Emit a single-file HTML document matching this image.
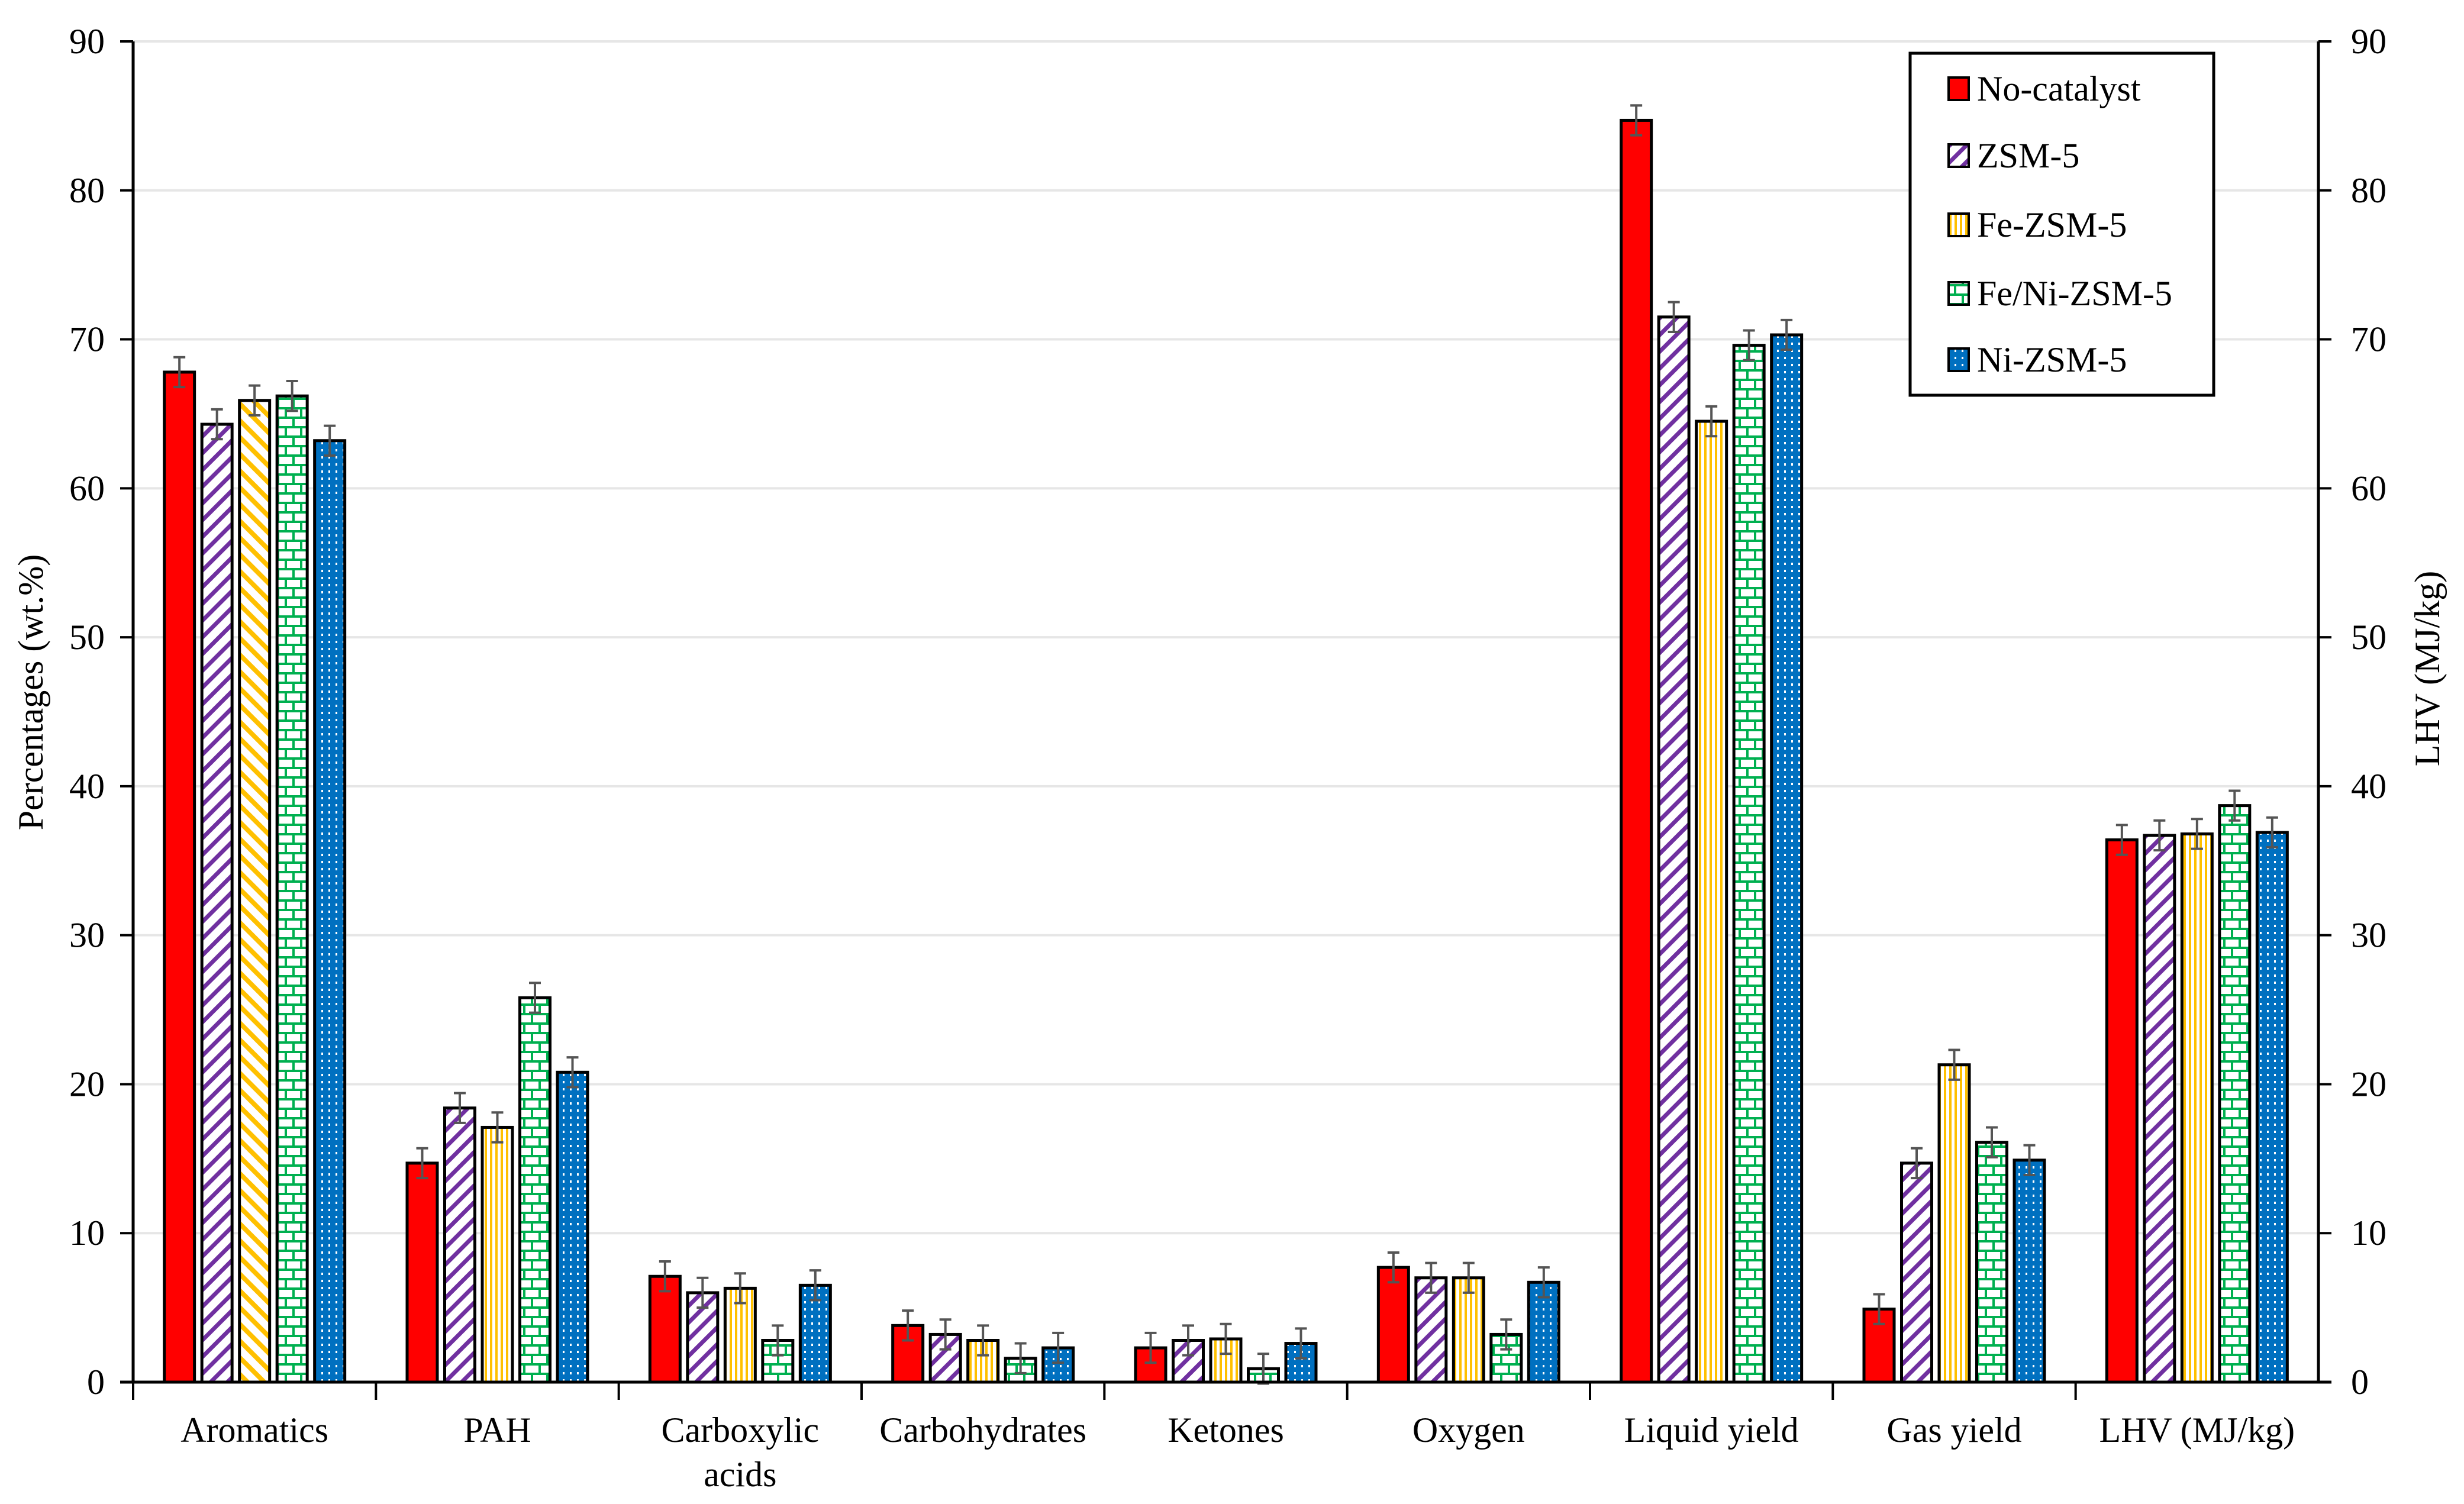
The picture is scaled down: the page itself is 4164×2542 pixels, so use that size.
<!DOCTYPE html>
<html><head><meta charset="utf-8"><style>
html,body{margin:0;padding:0;background:#fff}
svg{display:block}
svg text{font-family:"Liberation Serif",serif !important;fill:#000}
</style></head><body>
<svg id="chart" width="4164" height="2542" viewBox="0 0 4164 2542" xmlns="http://www.w3.org/2000/svg" font-family="Liberation Serif, serif">
<defs>
<pattern id="p-purple" patternUnits="userSpaceOnUse" width="20" height="20" patternTransform="rotate(45)">
<rect width="20" height="20" fill="#fff"/><rect x="0" y="0" width="7" height="20" fill="#7030a0"/></pattern>
<pattern id="p-yellow-diag" patternUnits="userSpaceOnUse" width="20" height="20" patternTransform="rotate(-45)">
<rect width="20" height="20" fill="#fff"/><rect x="0" y="0" width="8" height="20" fill="#ffc000"/></pattern>
<pattern id="p-yellow" patternUnits="userSpaceOnUse" width="9" height="10">
<rect width="9" height="10" fill="#fff"/><rect x="0" y="0" width="4" height="10" fill="#ffc000"/></pattern>
<pattern id="p-green" patternUnits="userSpaceOnUse" width="26" height="32">
<rect width="26" height="32" fill="#fff"/>
<rect x="0" y="0" width="26" height="4" fill="#00b050"/><rect x="0" y="16" width="26" height="4" fill="#00b050"/>
<rect x="0" y="0" width="4" height="16" fill="#00b050"/><rect x="13" y="16" width="4" height="16" fill="#00b050"/></pattern>
<pattern id="p-blue" patternUnits="userSpaceOnUse" width="12" height="12">
<rect width="12" height="12" fill="#0070c0"/><rect x="3" y="3" width="3" height="4" fill="#fff"/></pattern>
</defs>
<g id="grid"></g><g id="bars"></g><g id="axes"></g>
<text font-family="Liberation Serif, serif" transform="translate(72,1170) rotate(-90)" text-anchor="middle" font-size="60">Percentages  (wt.%)</text>
<text font-family="Liberation Serif, serif" transform="translate(4122,1130) rotate(-90)" text-anchor="middle" font-size="60">LHV  (MJ/kg)</text>
<g>
<rect x="3228" y="90" width="513" height="578" fill="#fff" stroke="#000" stroke-width="5"/>
<g id="legend-items"></g>
</g>
</svg>
<script>
const categories = [["Aromatics"],["PAH"],["Carboxylic","acids"],["Carbohydrates"],["Ketones"],["Oxygen"],["Liquid yield"],["Gas yield"],["LHV (MJ/kg)"]];
const seriesNames = ["No-catalyst","ZSM-5","Fe-ZSM-5","Fe/Ni-ZSM-5","Ni-ZSM-5"];
const noCatalyst = [67.8,14.7,7.1,3.8,2.3,7.7,84.7,4.9,36.4];
const zsm5 = [64.3,18.4,6.0,3.2,2.8,7.0,71.5,14.7,36.7];
const feZsm5 = [65.9,17.1,6.3,2.8,2.9,7.0,64.5,21.3,36.8];
const feNiZsm5 = [66.2,25.8,2.8,1.6,0.9,3.2,69.6,16.1,38.7];
const niZsm5 = [63.2,20.8,6.5,2.3,2.6,6.7,70.3,14.9,36.9];
const errorBar = [1,1,1,1,1,1,1,1,1];
const yTicks = [0,10,20,30,40,50,60,70,80,90];

const NS="http://www.w3.org/2000/svg";
const FF="Liberation Serif, serif";
const X0=225, X1=3918, Y0=2336, Y90=70;
const groupW=(X1-X0)/categories.length;
function y(v){return Y0-(v/90)*(Y0-Y90);}
function mk(tag,attrs,parent){const e=document.createElementNS(NS,tag);for(const k in attrs)e.setAttribute(k,attrs[k]);if(tag==='text')e.setAttribute('font-family',FF);parent.appendChild(e);return e;}
const grid=document.getElementById('grid'),bars=document.getElementById('bars'),axes=document.getElementById('axes');
const series=[noCatalyst,zsm5,feZsm5,feNiZsm5,niZsm5];
const fills=["#ff0000","url(#p-purple)","url(#p-yellow)","url(#p-green)","url(#p-blue)"];
yTicks.forEach(t=>{
  const g=mk('line',{x1:X0,x2:X1,y1:y(t),y2:y(t),stroke:'#e6e6e6','stroke-width':4},grid);
  
  
  const tk=mk('line',{x1:X0-22,x2:X0,y1:y(t),y2:y(t),stroke:'#000','stroke-width':4},axes);
  
  
  const lb=mk('text',{x:X0-48,y:y(t)+20,'text-anchor':'end','font-size':60},axes);lb.textContent=t;
  
  
  const tk2=mk('line',{x1:X1,x2:X1+22,y1:y(t),y2:y(t),stroke:'#000','stroke-width':4},axes);
  
  
  const lb2=mk('text',{x:X1+55,y:y(t)+20,'text-anchor':'start','font-size':60},axes);lb2.textContent=t;
  
  
});
const bw=51,pitch=63.5;
categories.forEach((c,i)=>{
  const gx=X0+i*groupW, start=gx+groupW/2-(4*pitch+bw)/2;
  series.forEach((s,j)=>{
    const bx=start+j*pitch, v=s[i];
    let f=fills[j]; if(j===2&&i===0) f="url(#p-yellow-diag)";
    const r=mk('rect',{x:bx,y:y(v),width:bw,height:Y0-y(v),fill:f,stroke:'#000','stroke-width':5},bars);
    
    
    const cx=bx+bw/2, e=errorBar[i];
    const eb=mk('path',{d:`M${cx},${y(v+e)}V${y(v-e)}M${cx-10},${y(v+e)}H${cx+10}M${cx-10},${y(v-e)}H${cx+10}`,stroke:'#555','stroke-width':4,fill:'none'},bars);
    
    
  });
  const tk=mk('line',{x1:gx,x2:gx,y1:Y0,y2:Y0+30,stroke:'#000','stroke-width':4},axes);
  
  
  c.forEach((ln,k)=>{
    const t=mk('text',{x:gx+groupW/2,y:2437+k*75,'text-anchor':'middle','font-size':60},axes);t.textContent=ln;
    
    
  });
});
const lt=mk('line',{x1:X1,x2:X1,y1:Y90,y2:Y0,stroke:'#000','stroke-width':5},axes);


const la=mk('line',{x1:X0,x2:X0,y1:Y90,y2:Y0,stroke:'#000','stroke-width':5},axes);


const lx=mk('line',{x1:X0-22,x2:X1+22,y1:Y0,y2:Y0,stroke:'#000','stroke-width':5},axes);


const leg=document.getElementById('legend-items');
seriesNames.forEach((n,j)=>{
  const cy=[150,263,380,496,608][j];
  const sw=mk('rect',{x:3293,y:cy-19,width:34,height:38,fill:fills[j],stroke:'#000','stroke-width':4},leg);
  
  
  const t=mk('text',{x:3341,y:cy+20,'font-size':60},leg);t.textContent=n;
  
  
});
</script>
</body></html>
